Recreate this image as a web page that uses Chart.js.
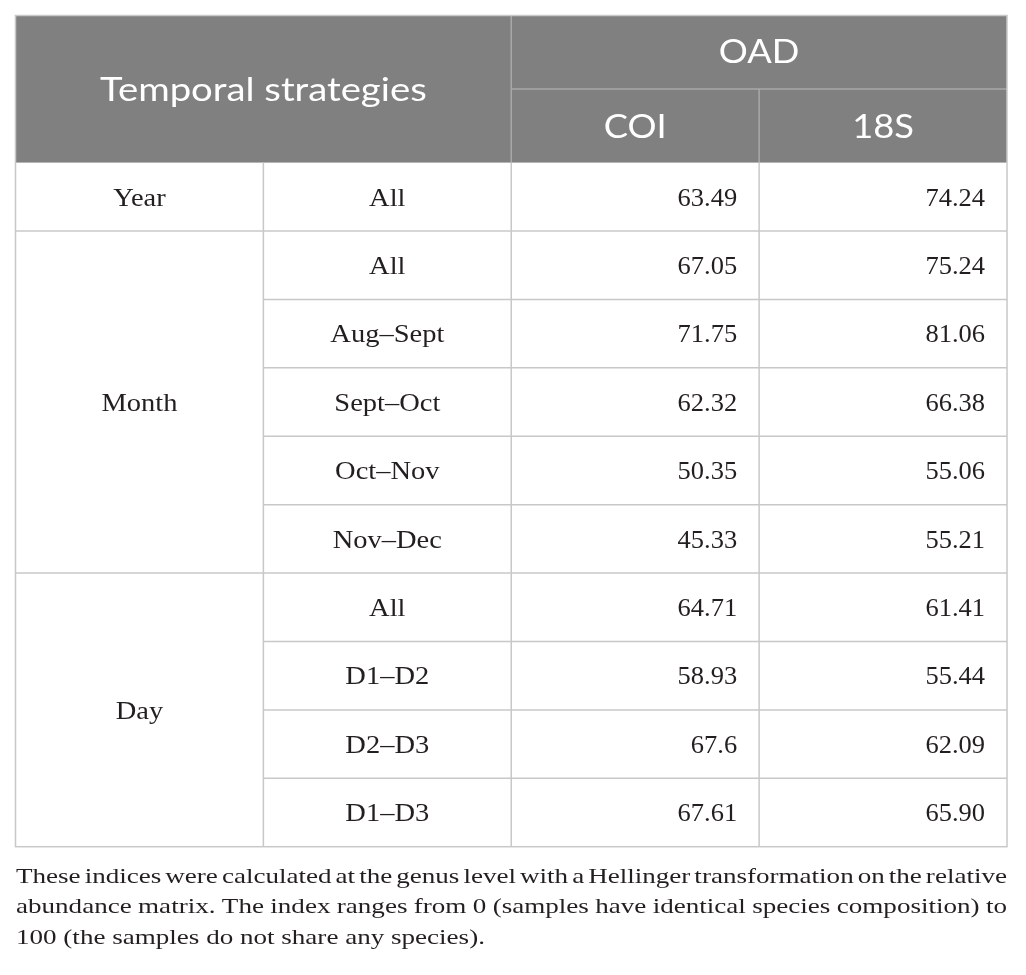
<!DOCTYPE html>
<html><head><meta charset="utf-8">
<script src="https://cdn.jsdelivr.net/npm/chart.js@4.4.1/dist/chart.umd.min.js"></script>
<style>html,body{margin:0;padding:0;background:#fff}#wrap{width:1026px;height:975px}</style>
</head><body><div id="wrap"><canvas id="c" width="1026" height="975"></canvas></div>
<script>
// ---- data ----
const headerTitle = "Temporal strategies";
const headerGroup = "OAD";
const markers = ["COI", "18S"];
const groups = ["Year", "Month", "Day"];
const groupSizes = [1, 5, 4];
const periods = ["All", "All", "Aug–Sept", "Sept–Oct", "Oct–Nov", "Nov–Dec", "All", "D1–D2", "D2–D3", "D1–D3"];
const coiValues = ["63.49", "67.05", "71.75", "62.32", "50.35", "45.33", "64.71", "58.93", "67.6", "67.61"];
const s18Values = ["74.24", "75.24", "81.06", "66.38", "55.06", "55.21", "61.41", "55.44", "62.09", "65.90"];
const footnoteLines = [
  "These indices were calculated at the genus level with a Hellinger transformation on the relative",
  "abundance matrix. The index ranges from 0 (samples have identical species composition) to",
  "100 (the samples do not share any species)."
];

// ---- layout (in scale units) ----
const HEADER = 2.15;           // header height in body-row units
const NROWS = periods.length;
const YMAX = HEADER + NROWS;

const SERIF = "'Liberation Serif', 'Times New Roman', serif";
const SANS = "Lato, 'Open Sans', sans-serif";

function rowCenter(i) { return HEADER + i + 0.5; }

const datasets = [
  { label: markers[0], data: coiValues.map((v, i) => ({ x: 3, y: rowCenter(i) })), pointRadius: 0 },
  { label: markers[1], data: s18Values.map((v, i) => ({ x: 4, y: rowCenter(i) })), pointRadius: 0 }
];
const valueLabels = [coiValues, s18Values];

function txt(ctx, s, x, y, align, sx) {
  ctx.save();
  ctx.translate(x, y);
  ctx.scale(sx, 1);
  ctx.textAlign = align;
  ctx.fillText(s, 0, 0);
  ctx.restore();
}

const tablePlugin = {
  id: 'tablePlugin',
  afterDraw(chart) {
    const ctx = chart.ctx;
    const xs = chart.scales.x, ys = chart.scales.y;
    const X = v => xs.getPixelForValue(v);
    const Y = v => ys.getPixelForValue(v);
    ctx.save();
    // header background
    ctx.fillStyle = '#808080';
    ctx.fillRect(X(0), Y(0), X(4) - X(0), Y(HEADER) - Y(0));
    const line = (x1, y1, x2, y2) => { ctx.beginPath(); ctx.moveTo(x1, y1); ctx.lineTo(x2, y2); ctx.stroke(); };
    ctx.lineWidth = 1.5;
    // header inner lines
    ctx.strokeStyle = '#a8a8a8';
    line(X(2), Y(0), X(2), Y(HEADER));
    line(X(2), Y(HEADER / 2), X(4), Y(HEADER / 2));
    line(X(3), Y(HEADER / 2), X(3), Y(HEADER));
    // body lines
    ctx.strokeStyle = '#c8c8c8';
    const groupEnds = [];
    let acc = 0;
    groupSizes.forEach(s => { acc += s; groupEnds.push(acc); });
    for (let i = 1; i < NROWS; i++) {
      const full = groupEnds.includes(i);
      line(full ? X(0) : X(1), Y(HEADER + i), X(4), Y(HEADER + i));
    }
    [1, 2, 3].forEach(c => line(X(c), Y(HEADER), X(c), Y(YMAX)));
    ctx.strokeRect(X(0), Y(0), X(4) - X(0), Y(YMAX) - Y(0));

    // header text
    ctx.fillStyle = '#ffffff';
    ctx.textBaseline = 'alphabetic';
    const hs = 33, hsx = 1.1;
    ctx.font = `${hs}px ${SANS}`;
    const capH = 0.7165 * hs;
    txt(ctx, headerTitle, X(1), (Y(0) + Y(HEADER)) / 2 + capH / 2, 'center', 1.16);
    txt(ctx, headerGroup, X(3), (Y(0) + Y(HEADER / 2)) / 2 + capH / 2 - 1, 'center', hsx);
    txt(ctx, markers[0], X(2.5), (Y(HEADER / 2) + Y(HEADER)) / 2 + capH / 2, 'center', hsx);
    txt(ctx, markers[1], X(3.5), (Y(HEADER / 2) + Y(HEADER)) / 2 + capH / 2, 'center', hsx);

    // body text
    const bs = 25;
    ctx.font = `${bs}px ${SERIF}`;
    ctx.fillStyle = '#231f20';
    const off = 0.35 * bs;
    const lsx = 1.14, nsx = 1.06;
    let start = 0;
    groups.forEach((g, gi) => {
      const c = HEADER + start + groupSizes[gi] / 2;
      txt(ctx, g, X(0.5), Y(c) + off, 'center', lsx);
      start += groupSizes[gi];
    });
    periods.forEach((p, i) => {
      txt(ctx, p, X(1.5), Y(rowCenter(i)) + off, 'center', lsx);
    });
    chart.data.datasets.forEach((ds, di) => {
      const meta = chart.getDatasetMeta(di);
      meta.data.forEach((pt, i) => {
        txt(ctx, valueLabels[di][i], pt.x - 22, pt.y + off, 'right', nsx);
      });
    });

    // footnote (justified)
    const fs = 22, fsx = 1.23;
    ctx.font = `${fs}px ${SERIF}`;
    const left = X(0) + 0.5, right = X(4);
    const avail = right - left;
    footnoteLines.forEach((ln, li) => {
      const by = Y(YMAX) + 36 + li * 30.7;
      const words = ln.split(' ');
      if (li < footnoteLines.length - 1) {
        let sx = fsx;
        let wordsW = words.reduce((a, w) => a + ctx.measureText(w).width * sx, 0);
        let space = (avail - wordsW) / (words.length - 1);
        if (space < 3) {
          const spW = ctx.measureText(' ').width * fsx;
          sx = fsx * (avail - spW * (words.length - 1)) / wordsW;
          wordsW = words.reduce((a, w) => a + ctx.measureText(w).width * sx, 0);
          space = (avail - wordsW) / (words.length - 1);
        }
        let x = left;
        words.forEach(w => { txt(ctx, w, x, by, 'left', sx); x += ctx.measureText(w).width * sx + space; });
      } else {
        txt(ctx, ln, left, by, 'left', fsx);
      }
    });
    ctx.restore();
  }
};

new Chart(document.getElementById('c'), {
  type: 'scatter',
  data: { datasets },
  options: {
    responsive: false,
    animation: false,
    layout: { padding: { left: 15.5, right: 19, top: 15.5, bottom: 128.3 } },
    plugins: { legend: { display: false }, tooltip: { enabled: false } },
    scales: {
      x: { type: 'linear', min: 0, max: 4, display: false },
      y: { type: 'linear', min: 0, max: YMAX, reverse: true, display: false }
    }
  },
  plugins: [tablePlugin]
});
</script>
</body></html>
